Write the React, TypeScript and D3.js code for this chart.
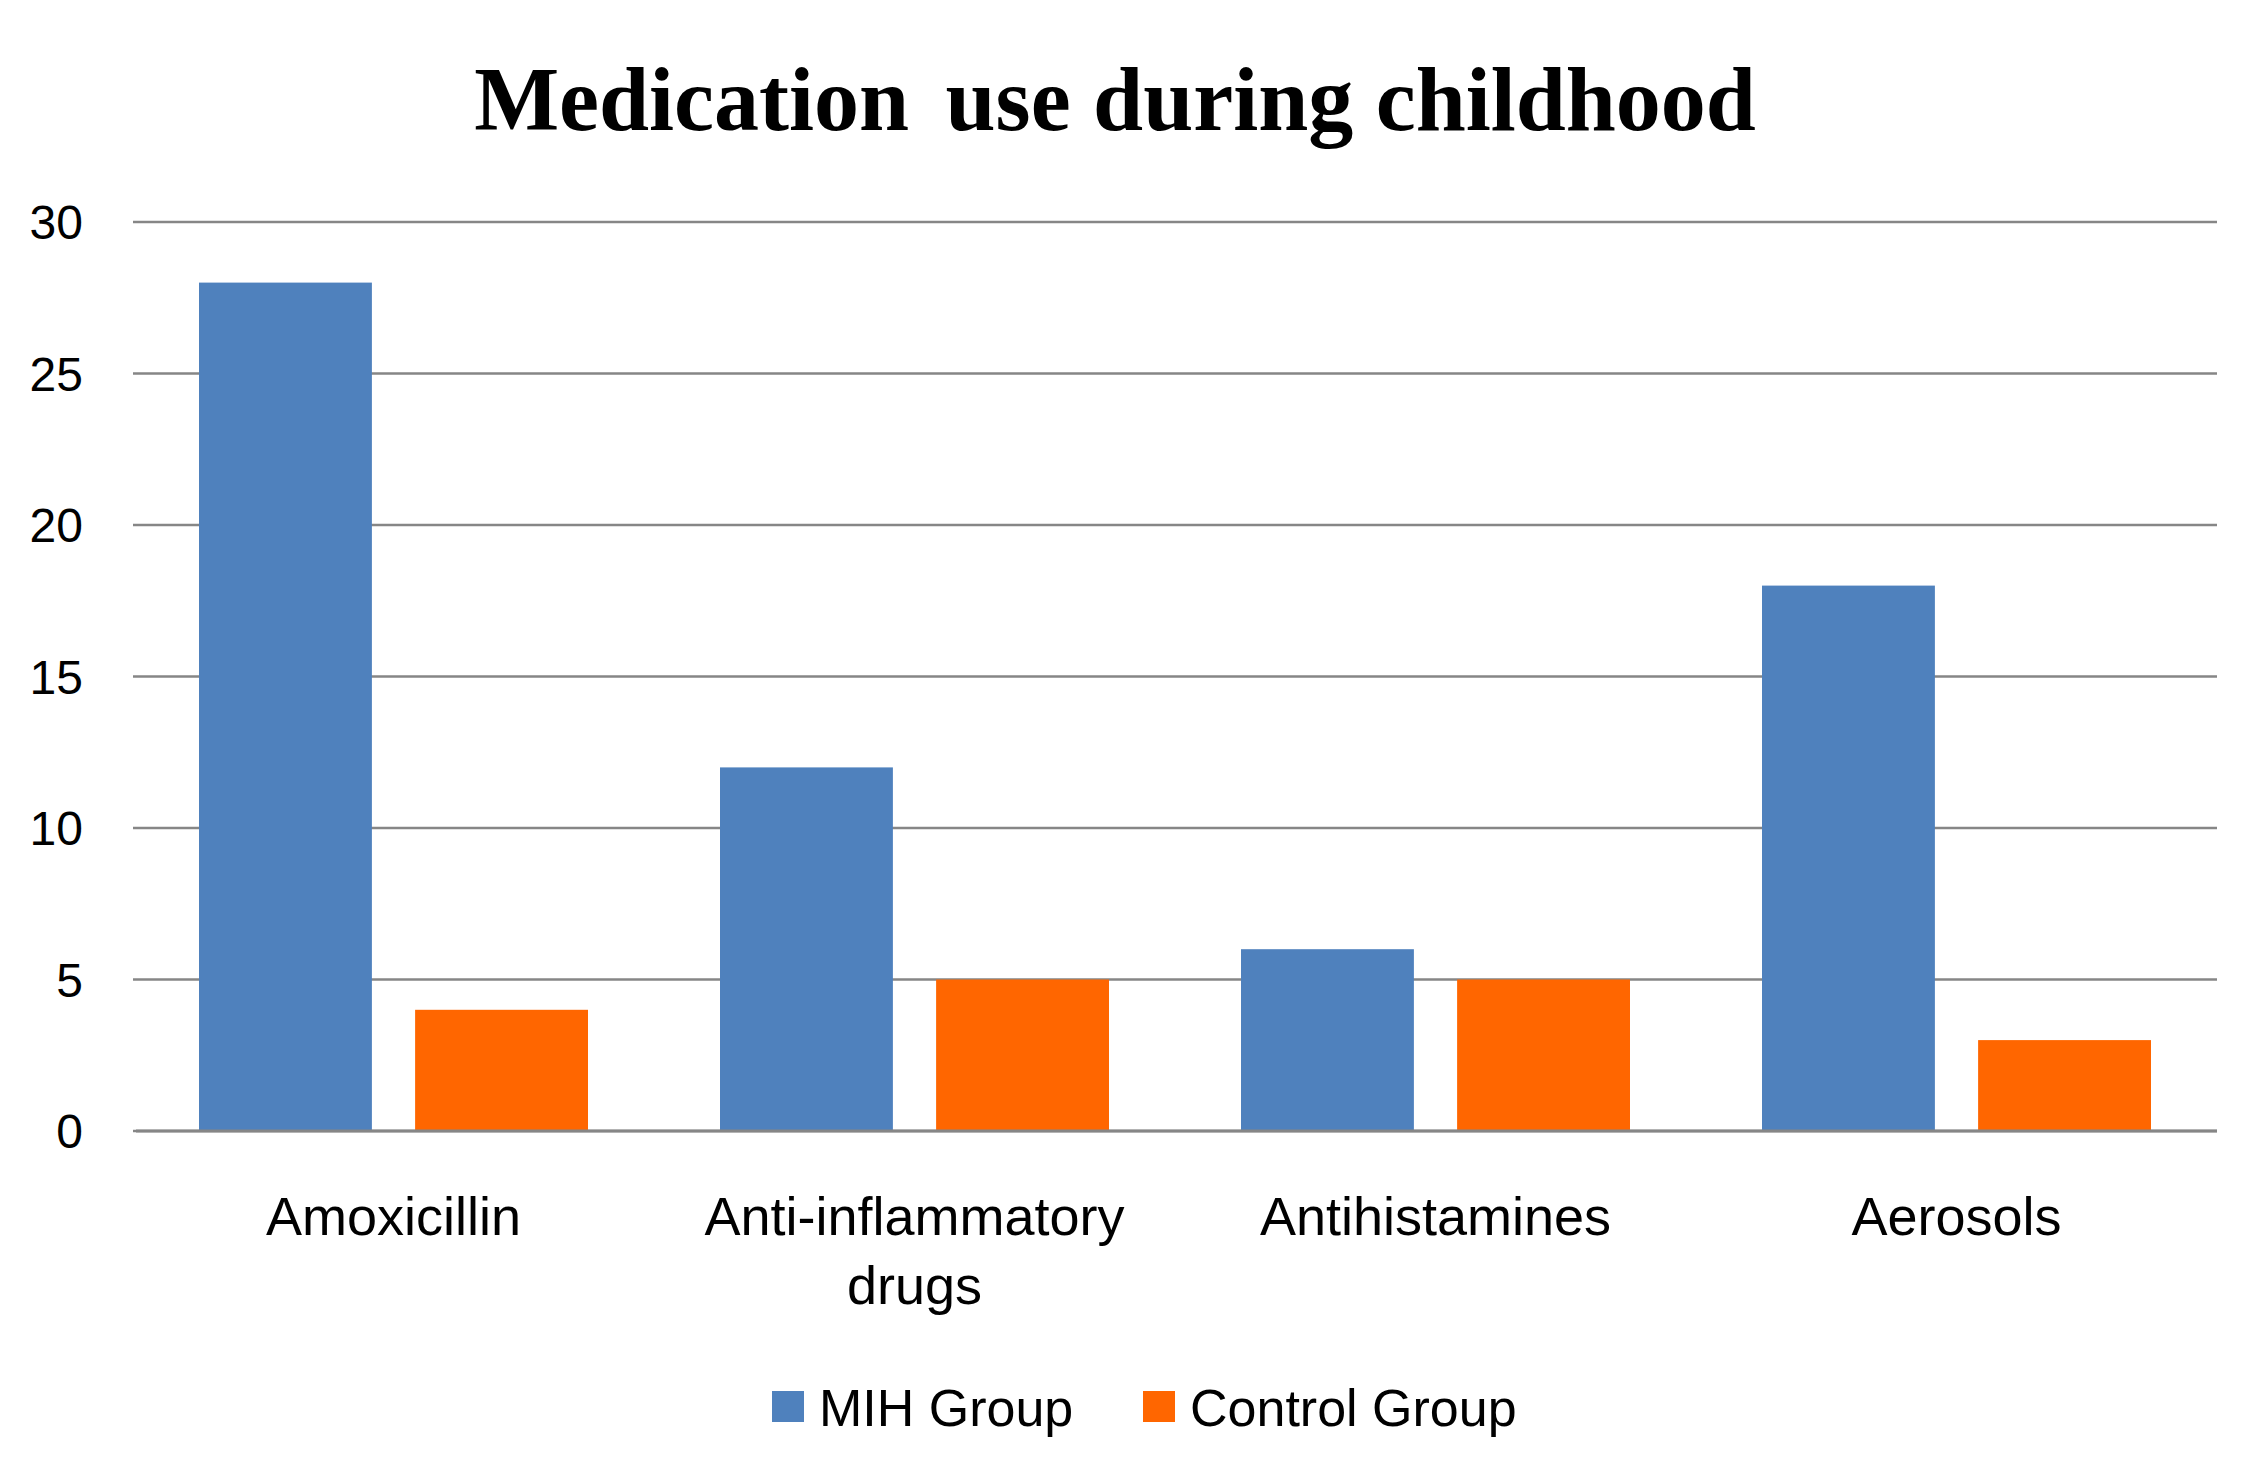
import * as d3 from 'd3';
import { useEffect, useRef } from 'react';

const categories = ['Amoxicillin', 'Anti-inflammatory drugs', 'Antihistamines', 'Aerosols'];
const categoryLines = [['Amoxicillin'], ['Anti-inflammatory', 'drugs'], ['Antihistamines'], ['Aerosols']];
const seriesNames = ['MIH Group', 'Control Group'];
const mihValues = [28, 12, 6, 18];
const controlValues = [4, 5, 5, 3];
const yTicks = [0, 5, 10, 15, 20, 25, 30];
const colors = ['#4F81BD', '#FF6600'];

const WIDTH = 2242;
const HEIGHT = 1462;

function App() {
  const chartRef = useRef<SVGSVGElement>(null);

  useEffect(() => {
    // @ts-expect-error ref typing
    const svg = d3.select(chartRef.current);
    svg.selectAll('*').remove();

    const plot = { left: 133, right: 2217, top: 222, bottom: 1131 };
    const labelFont = '"Liberation Sans", Arial, sans-serif';

    // scales
    const x0 = d3.scaleBand().domain(categories).range([plot.left, plot.right]).padding(0);
    const x1 = d3
      .scaleBand()
      .domain(seriesNames)
      .range([66, x0.bandwidth() - 66])
      .paddingInner(0.2)
      .paddingOuter(0);
    const y = d3.scaleLinear().domain([0, 30]).range([plot.bottom, plot.top]);

    // title (the gap after the first word is a bit wider in the original)
    const title = svg
      .append('text')
      .attr('x', 1115)
      .attr('y', 130)
      .attr('text-anchor', 'middle')
      .attr('style', 'font-family: "Liberation Serif", "Times New Roman", serif; font-weight: bold; font-size: 90px;');
    title.append('tspan').text('Medication');
    title.append('tspan').attr('dx', 14).text(' use during childhood');

    // gridlines
    svg
      .append('g')
      .selectAll('line')
      .data(yTicks)
      .enter()
      .append('line')
      .attr('x1', plot.left)
      .attr('x2', plot.right)
      .attr('y1', (d) => y(d))
      .attr('y2', (d) => y(d))
      .attr('stroke', '#868686')
      .attr('stroke-width', 2.5);

    // y tick labels
    svg
      .append('g')
      .selectAll('text')
      .data(yTicks)
      .enter()
      .append('text')
      .attr('x', 83)
      .attr('y', (d) => y(d))
      .attr('dy', '0.36em')
      .attr('text-anchor', 'end')
      .attr('style', `font-family: ${labelFont}; font-size: 48px;`)
      .attr('fill', '#000')
      .text((d) => d);

    // bars
    const rows = categories.map((c, i) => ({ cat: c, values: [mihValues[i], controlValues[i]] }));
    const groups = svg
      .append('g')
      .selectAll('g')
      .data(rows)
      .enter()
      .append('g')
      .attr('transform', (d) => `translate(${x0(d.cat)},0)`);

    groups
      .selectAll('rect')
      .data((d) => d.values.map((v, j) => ({ name: seriesNames[j], value: v, idx: j })))
      .enter()
      .append('rect')
      // @ts-expect-error band may be undefined
      .attr('x', (d) => x1(d.name))
      .attr('width', x1.bandwidth())
      .attr('y', (d) => y(d.value))
      .attr('height', (d) => y(0) - y(d.value))
      .attr('fill', (d) => colors[d.idx]);

    // baseline redrawn on top of bars
    svg
      .append('line')
      .attr('x1', plot.left + 3)
      .attr('x2', plot.right)
      .attr('y1', y(0))
      .attr('y2', y(0))
      .attr('stroke', '#868686')
      .attr('stroke-width', 3);

    // category labels
    const catLabels = svg
      .append('g')
      .selectAll('text')
      .data(categories)
      .enter()
      .append('text')
      .attr('text-anchor', 'middle')
      .attr('style', `font-family: ${labelFont}; font-size: 54px;`)
      .attr('fill', '#000');

    catLabels
      .selectAll('tspan')
      .data((_d, i) => categoryLines[i].map((line) => ({ line, cat: categories[i] })))
      .enter()
      .append('tspan')
      .attr('x', (d) => (x0(d.cat) as number) + x0.bandwidth() / 2)
      .attr('y', (_d, k) => 1235 + k * 69)
      .text((d) => d.line);

    // legend
    const legendX = [772, 1143];
    const legend = svg
      .append('g')
      .selectAll('g')
      .data(seriesNames)
      .enter()
      .append('g')
      .attr('transform', (_d, i) => `translate(${legendX[i]},1391)`);

    legend
      .append('rect')
      .attr('width', 32)
      .attr('height', 31)
      .attr('fill', (_d, i) => colors[i]);

    legend
      .append('text')
      .attr('x', 47)
      .attr('y', 35)
      .attr('style', `font-family: ${labelFont}; font-size: 52px;`)
      .attr('fill', '#000')
      .text((d) => d);
  }, []);

  return (
    <div style={{ position: 'absolute', left: 0, top: 0, background: '#fff' }}>
      <svg ref={chartRef} width={WIDTH} height={HEIGHT} style={{ display: 'block' }} />
    </div>
  );
}

export default App;
